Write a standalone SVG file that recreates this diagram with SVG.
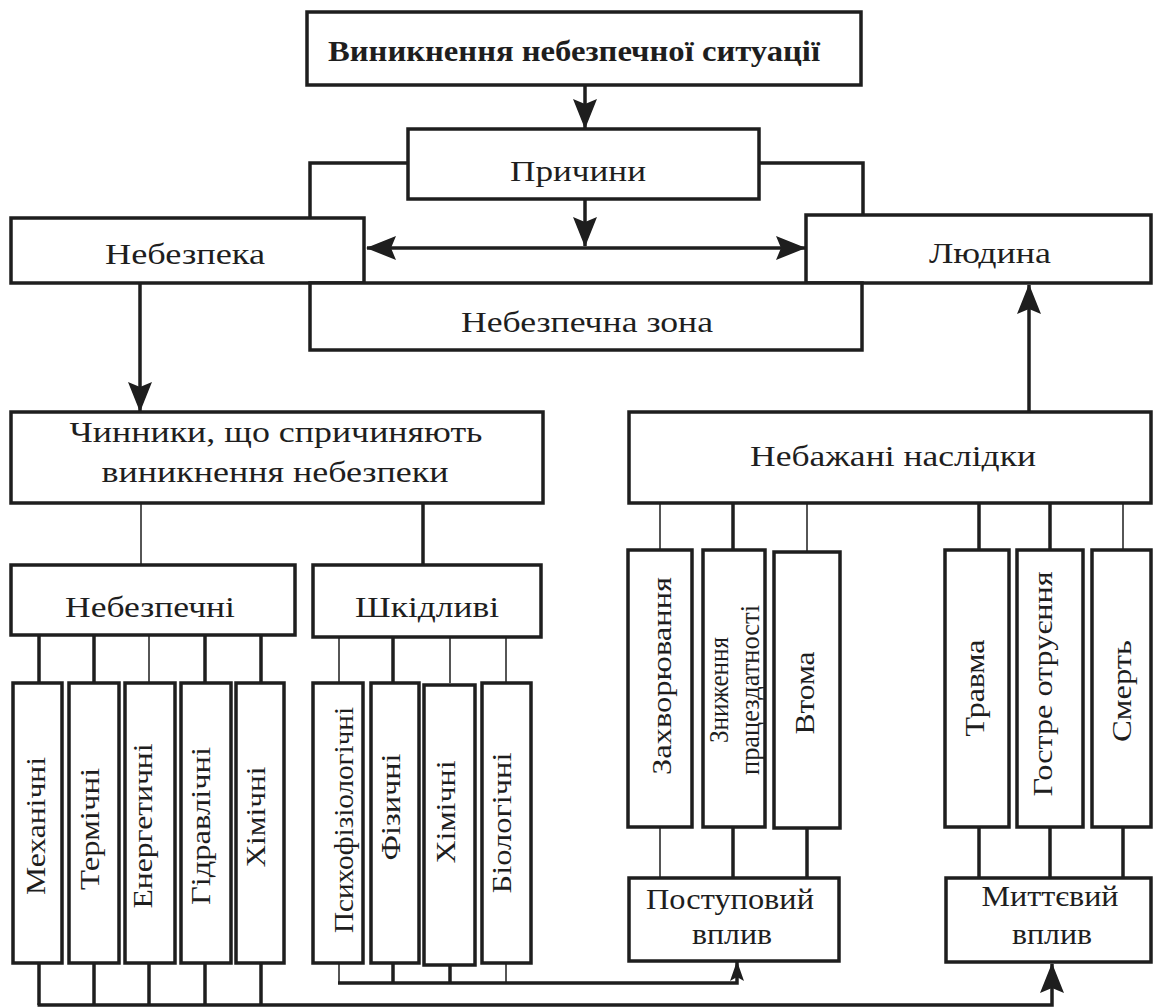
<svg xmlns="http://www.w3.org/2000/svg" width="1154" height="1008" viewBox="0 0 1154 1008">
<style>
.box{fill:#fff;stroke:#1e1e1e;stroke-width:3.5}
.t{font-family:"Liberation Serif","DejaVu Serif",serif;font-size:30px;fill:#1e1e1e;text-anchor:middle}
.v{font-family:"Liberation Serif","DejaVu Serif",serif;font-size:28px;fill:#1e1e1e;text-anchor:middle}
.b{font-weight:bold}
.th{fill:none;stroke:#1e1e1e;stroke-width:3.5}
.tn{fill:none;stroke:#1e1e1e;stroke-width:1.5}
</style>
<defs>
<marker id="ah" markerUnits="userSpaceOnUse" markerWidth="30" markerHeight="26" viewBox="0 0 30 26" refX="29" refY="13" orient="auto-start-reverse">
<path d="M0,1 L30,13 L0,25 L5,13 Z" fill="#1e1e1e"/>
</marker>
<marker id="as" markerUnits="userSpaceOnUse" markerWidth="20" markerHeight="14" viewBox="0 0 20 14" refX="19" refY="7" orient="auto">
<path d="M0,0 L20,7 L0,14 L4,7 Z" fill="#1e1e1e"/>
</marker>
</defs>
<rect width="1154" height="1008" fill="#fff"/>
<g id="connectors">
<line class="th" x1="585" y1="85" x2="585" y2="128" marker-end="url(#ah)"/>
<line class="th" x1="585" y1="199" x2="585" y2="246" marker-end="url(#ah)"/>
<line class="th" x1="367" y1="248" x2="805" y2="248" marker-start="url(#ah)" marker-end="url(#ah)"/>
<polyline class="th" points="408,163 310,163 310,218"/>
<polyline class="th" points="759,163 863,163 863,215"/>
<line class="th" x1="140" y1="283" x2="140" y2="411" marker-end="url(#ah)"/>
<line class="th" x1="1029" y1="412" x2="1029" y2="285" marker-end="url(#ah)"/>
<line class="tn" x1="141" y1="503" x2="141" y2="565"/>
<line class="th" x1="423" y1="503" x2="423" y2="565"/>
<line class="th" x1="39" y1="635" x2="39" y2="683"/>
<line class="th" x1="94" y1="635" x2="94" y2="683"/>
<line class="tn" x1="149" y1="635" x2="149" y2="683"/>
<line class="th" x1="205" y1="635" x2="205" y2="683"/>
<line class="th" x1="261" y1="635" x2="261" y2="683"/>
<line class="tn" x1="339" y1="637" x2="339" y2="683"/>
<line class="th" x1="393" y1="637" x2="393" y2="683"/>
<line class="tn" x1="450" y1="637" x2="450" y2="683"/>
<line class="tn" x1="506" y1="637" x2="506" y2="683"/>
<line class="th" x1="39" y1="963" x2="39" y2="1005"/>
<line class="th" x1="94" y1="963" x2="94" y2="1005"/>
<line class="th" x1="149" y1="963" x2="149" y2="1005"/>
<line class="th" x1="205" y1="963" x2="205" y2="1005"/>
<line class="th" x1="261" y1="963" x2="261" y2="1005"/>
<polyline class="th" points="37.5,1005 1052,1005 1052,964" marker-end="url(#ah)"/>
<line class="tn" x1="339" y1="963" x2="339" y2="983"/>
<line class="th" x1="393" y1="963" x2="393" y2="983"/>
<line class="th" x1="450" y1="965" x2="450" y2="983"/>
<line class="tn" x1="506" y1="963" x2="506" y2="983"/>
<polyline class="th" points="338,983 737,983 737,962" marker-end="url(#as)"/>
<line class="tn" x1="660" y1="503" x2="660" y2="550"/>
<line class="th" x1="733" y1="503" x2="733" y2="550"/>
<line class="tn" x1="807" y1="503" x2="807" y2="552"/>
<line class="th" x1="979" y1="503" x2="979" y2="550"/>
<line class="th" x1="1050" y1="503" x2="1050" y2="550"/>
<line class="tn" x1="1123" y1="503" x2="1123" y2="550"/>
<line class="tn" x1="660" y1="827" x2="660" y2="878"/>
<line class="th" x1="733" y1="827" x2="733" y2="878"/>
<line class="th" x1="807" y1="828" x2="807" y2="878"/>
<line class="th" x1="979" y1="827" x2="979" y2="878"/>
<line class="th" x1="1050" y1="827" x2="1050" y2="878"/>
<line class="th" x1="1123" y1="827" x2="1123" y2="878"/>
</g>
<g id="n-situation"><rect class="box" x="307" y="12" width="554" height="73"/><text class="t b" x="574" y="61" textLength="492" lengthAdjust="spacingAndGlyphs">Виникнення небезпечної ситуації</text></g>
<g id="n-causes"><rect class="box" x="408" y="129" width="351" height="70"/><text class="t" x="578" y="181" textLength="136" lengthAdjust="spacingAndGlyphs">Причини</text></g>
<g id="n-danger"><rect class="box" x="11" y="218" width="353" height="65"/><text class="t" x="185" y="264" textLength="160" lengthAdjust="spacingAndGlyphs">Небезпека</text></g>
<g id="n-human"><rect class="box" x="806" y="215" width="345" height="68"/><text class="t" x="990" y="263" textLength="122" lengthAdjust="spacingAndGlyphs">Людина</text></g>
<g id="n-zone"><rect class="box" x="310" y="283" width="552" height="67"/><text class="t" x="587" y="332" textLength="252" lengthAdjust="spacingAndGlyphs">Небезпечна зона</text></g>
<g id="n-factors"><rect class="box" x="11" y="412" width="532" height="91"/><text class="t" x="276" y="442" textLength="413" lengthAdjust="spacingAndGlyphs">Чинники, що спричиняють</text><text class="t" x="275" y="482" textLength="347" lengthAdjust="spacingAndGlyphs">виникнення небезпеки</text></g>
<g id="n-consequences"><rect class="box" x="629" y="412" width="522" height="91"/><text class="t" x="893" y="466" textLength="286" lengthAdjust="spacingAndGlyphs">Небажані наслідки</text></g>
<g id="n-dangerous"><rect class="box" x="11" y="565" width="284" height="70"/><text class="t" x="150" y="617" textLength="170" lengthAdjust="spacingAndGlyphs">Небезпечні</text></g>
<g id="n-harmful"><rect class="box" x="313" y="565" width="228" height="72"/><text class="t" x="427" y="617" textLength="144" lengthAdjust="spacingAndGlyphs">Шкідливі</text></g>
<g id="n-mech"><rect class="box" x="13" y="683" width="49" height="280"/><text class="v" transform="translate(45,826) rotate(-90)" textLength="138" lengthAdjust="spacingAndGlyphs">Механічні</text></g>
<g id="n-therm"><rect class="box" x="69" y="683" width="50" height="280"/><text class="v" transform="translate(99,829) rotate(-90)" textLength="122" lengthAdjust="spacingAndGlyphs">Термічні</text></g>
<g id="n-energy"><rect class="box" x="125" y="683" width="50" height="280"/><text class="v" transform="translate(152,826) rotate(-90)" textLength="165" lengthAdjust="spacingAndGlyphs">Енергетичні</text></g>
<g id="n-hydro"><rect class="box" x="181" y="683" width="50" height="280"/><text class="v" transform="translate(210,826) rotate(-90)" textLength="158" lengthAdjust="spacingAndGlyphs">Гідравлічні</text></g>
<g id="n-chem1"><rect class="box" x="236" y="683" width="48" height="280"/><text class="v" transform="translate(265,817) rotate(-90)" textLength="101" lengthAdjust="spacingAndGlyphs">Хімічні</text></g>
<g id="n-psycho"><rect class="box" x="313" y="683" width="50" height="280"/><text class="v" transform="translate(353,820) rotate(-90)" textLength="226" lengthAdjust="spacingAndGlyphs">Психофізіологічні</text></g>
<g id="n-phys"><rect class="box" x="371" y="683" width="48" height="280"/><text class="v" transform="translate(400,807) rotate(-90)" textLength="107" lengthAdjust="spacingAndGlyphs">Фізичні</text></g>
<g id="n-chem2"><rect class="box" x="424" y="685" width="51" height="280"/><text class="v" transform="translate(455,812) rotate(-90)" textLength="103" lengthAdjust="spacingAndGlyphs">Хімічні</text></g>
<g id="n-bio"><rect class="box" x="482" y="683" width="49" height="280"/><text class="v" transform="translate(511,823) rotate(-90)" textLength="141" lengthAdjust="spacingAndGlyphs">Біологічні</text></g>
<g id="n-disease"><rect class="box" x="628" y="550" width="64" height="277"/><text class="v" transform="translate(671,676) rotate(-90)" textLength="198" lengthAdjust="spacingAndGlyphs">Захворювання</text></g>
<g id="n-reduced"><rect class="box" x="703" y="550" width="62" height="277"/><text class="v" transform="translate(728,690) rotate(-90)" textLength="106" lengthAdjust="spacingAndGlyphs">Зниження</text><text class="v" transform="translate(759,690) rotate(-90)" textLength="170" lengthAdjust="spacingAndGlyphs">працездатності</text></g>
<g id="n-fatigue"><rect class="box" x="774" y="552" width="66" height="276"/><text class="v" transform="translate(814,693) rotate(-90)" textLength="83" lengthAdjust="spacingAndGlyphs">Втома</text></g>
<g id="n-trauma"><rect class="box" x="945" y="550" width="64" height="277"/><text class="v" transform="translate(984,688) rotate(-90)" textLength="97" lengthAdjust="spacingAndGlyphs">Травма</text></g>
<g id="n-poison"><rect class="box" x="1017" y="550" width="66" height="277"/><text class="v" transform="translate(1052,684) rotate(-90)" textLength="225" lengthAdjust="spacingAndGlyphs">Гостре отруєння</text></g>
<g id="n-death"><rect class="box" x="1092" y="550" width="59" height="277"/><text class="v" transform="translate(1131,691) rotate(-90)" textLength="102" lengthAdjust="spacingAndGlyphs">Смерть</text></g>
<g id="n-gradual"><rect class="box" x="629" y="878" width="210" height="83"/><text class="t" x="730" y="909" textLength="168" lengthAdjust="spacingAndGlyphs">Поступовий</text><text class="t" x="732" y="944" textLength="80" lengthAdjust="spacingAndGlyphs">вплив</text></g>
<g id="n-instant"><rect class="box" x="946" y="878" width="205" height="84"/><text class="t" x="1050" y="906" textLength="137" lengthAdjust="spacingAndGlyphs">Миттєвий</text><text class="t" x="1052" y="944" textLength="80" lengthAdjust="spacingAndGlyphs">вплив</text></g>
</svg>
